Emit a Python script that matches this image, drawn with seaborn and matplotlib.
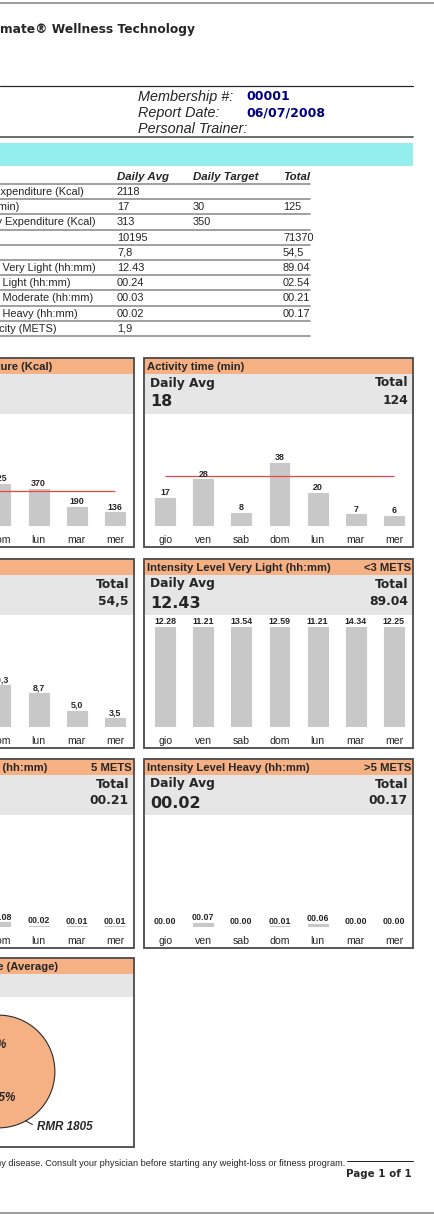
import numpy as np
import matplotlib
matplotlib.use("Agg")
import matplotlib.pyplot as plt
import seaborn as sns
from matplotlib.patches import Rectangle
from matplotlib.lines import Line2D
from matplotlib import font_manager as fm

# ---- data ----
days = ['gio', 'ven', 'sab', 'dom', 'lun', 'mar', 'mer']

# left column starts off the page: gio/ven/sab values there are estimates
kcal = [343, 565, 162, 425, 370, 190, 136]
kcal_target = 350
act_min = [17, 28, 8, 38, 20, 7, 6]
act_target = 30
distance = [8.7, 14.3, 4.0, 10.3, 8.7, 5.0, 3.5]
distance_labels = ['8,7', '14,3', '4,0', '10,3', '8,7', '5,0', '3,5']
very_light = ['12.28', '11.21', '13.54', '12.59', '11.21', '14.34', '12.25']
moderate = ['00.03', '00.05', '00.01', '00.08', '00.02', '00.01', '00.01']
heavy = ['00.00', '00.07', '00.00', '00.01', '00.06', '00.00', '00.00']

energy_names = ['RMR', 'Activity']
energy_parts = [1805, 313]

table_labels = ['Total Energy Expenditure (Kcal)', 'Activity Time (min)',
                'Activity Energy Expenditure (Kcal)', 'Steps', 'Distance (Km)',
                'Intensity Level Very Light (hh:mm)', 'Intensity Level Light (hh:mm)',
                'Intensity Level Moderate (hh:mm)', 'Intensity Level Heavy (hh:mm)',
                'Average Capacity (METS)']
table_avg = ['2118', '17', '313', '10195', '7,8', '12.43', '00.24', '00.03', '00.02', '1,9']
table_target = ['', '30', '350', '', '', '', '', '', '', '']
table_total = ['', '125', '', '71370', '54,5', '89.04', '02.54', '00.21', '00.17', '']


def to_minutes(s):
    h, m = s.split('.')
    return int(h) * 60 + int(m)


# ---- fonts / colours ----
def has_font(name):
    try:
        fm.findfont(fm.FontProperties(family=name), fallback_to_default=False)
        return True
    except Exception:
        return False


sns.set_style("white")
if has_font('Liberation Sans Narrow'):
    NARROW, NS = 'Liberation Sans Narrow', 1.0
else:
    NARROW, NS = 'Liberation Sans', 0.82
VERD = 'DejaVu Sans'
ARIAL = 'Liberation Sans'

ORANGE = '#F5B084'
BAND = '#E6E6E6'
BAR = '#C8C8C8'
BORDER = '#4a4a4a'
RED = '#EE4444'
NAVY = '#000080'

W, H = 435, 1217
fig = plt.figure(figsize=(W / 100, H / 100), dpi=100)


def fx(x):
    return x / W


def fy(y):
    return 1 - y / H


def ftext(x, y, s, px, **kw):
    kw.setdefault('va', 'center')
    fig.text(fx(x), fy(y), s, fontsize=px * 0.72, **kw)


def hline(x0, x1, y, lw, color):
    fig.add_artist(Line2D([fx(x0), fx(x1)], [fy(y), fy(y)], lw=lw * 0.72,
                          color=color, transform=fig.transFigure))


def rect(x0, y0, x1, y1, **kw):
    fig.add_artist(Rectangle((fx(x0), fy(y1)), (x1 - x0) / W, (y1 - y0) / H,
                             transform=fig.transFigure, **kw))


def axes_px(x0, y0, x1, y1):
    ax = fig.add_axes([fx(x0), fy(y1), (x1 - x0) / W, (y1 - y0) / H])
    ax.patch.set_alpha(0)
    return ax


# ---- page header ----
hline(0, W, 2.5, 2, '#a0a0a0')
ftext(0, 30, 'mate® Wellness Technology', 12.3, family=VERD, weight='bold')
hline(0, 413, 86, 1.2, '#222222')
for y, lab in zip([97, 113, 129], ['Membership #:', 'Report Date:', 'Personal Trainer:']):
    ftext(138, y, lab, 14.4, family=ARIAL, style='italic')
ftext(246, 97, '00001', 12.5, family=VERD, weight='bold', color=NAVY)
ftext(246, 113, '06/07/2008', 12.5, family=VERD, weight='bold', color=NAVY)
hline(0, 413, 137, 1.8, '#606060')
rect(0, 143, 413, 166, facecolor='#94EEEE', edgecolor='none')

# ---- summary table ----
for x, lab in zip([117, 193, 283], ['Daily Avg', 'Daily Target', 'Total']):
    ftext(x, 177, lab, 11.5, family=ARIAL, weight='bold', style='italic')
hline(0, 310, 184, 1.6, '#8c8c8c')
for i, lab in enumerate(table_labels):
    y = 192 + 15.2 * i
    ftext(-71, y, lab, 11, family=ARIAL)
    ftext(117, y, table_avg[i], 11, family=ARIAL)
    ftext(193, y, table_target[i], 11, family=ARIAL)
    ftext(283, y, table_total[i], 11, family=ARIAL)
    hline(0, 310, 184 + 15.2 * (i + 1), 1.6, '#8c8c8c')


# ---- chart panels ----
def panel(x0, top, title, right_title=None, avg=None, total=None, band=40):
    x1 = x0 + 269
    rect(x0, top, x1, top + 16, facecolor=ORANGE, edgecolor='none')
    rect(x0, top + 16, x1, top + 16 + band, facecolor=BAND, edgecolor='none')
    rect(x0, top, x1, top + 189, facecolor='none', edgecolor=BORDER, lw=1.3)
    ftext(x0 + 3, top + 9, title, 13.8 * NS, family=NARROW, weight='bold')
    if right_title:
        ftext(x1 - 2, top + 9, right_title, 13.8 * NS, family=NARROW,
              weight='bold', ha='right')
    if avg is not None:
        ftext(x0 + 6, top + 25, 'Daily Avg', 12.2, family=VERD, weight='bold')
        ftext(x0 + 6, top + 44, avg, 16, family=VERD, weight='bold')
    if total is not None:
        ftext(x1 - 5, top + 25, 'Total', 12.2, family=VERD, weight='bold', ha='right')
        ftext(x1 - 5, top + 42, total, 12.4, family=VERD, weight='bold', ha='right')


def bars(x0, top, values, labels, ylim, target=None):
    ax = axes_px(x0 + 2, top + 68, x0 + 269, top + 168)
    sns.barplot(x=days, y=values, ax=ax, color=BAR, width=0.52, saturation=1,
                edgecolor=BAR, linewidth=0.8)
    ax.set_xlim(-0.5, 6.5)
    ax.set_ylim(*ylim)
    for s in ax.spines.values():
        s.set_visible(False)
    ax.set_yticks([])
    ax.set_xlabel('')
    ax.set_ylabel('')
    ax.tick_params(axis='x', length=0, pad=6.5, labelsize=7.6)
    for t in ax.get_xticklabels():
        t.set_family(ARIAL)
    for i, (v, lab) in enumerate(zip(values, labels)):
        ax.annotate(lab, (i, min(v, ylim[1])), xytext=(0, 3.8), textcoords='offset points',
                    ha='center', va='center', fontsize=10.8 * 0.72 * NS,
                    family=NARROW, weight='bold', annotation_clip=False)
    if target is not None:
        ax.hlines(target, 0, 6, color=RED, lw=0.9)
    return ax


LX, RX = -135, 144
rows = [358, 559, 759, 958]

panel(LX, rows[0], 'Activity Energy Expenditure (Kcal)', avg='313')
bars(LX, rows[0], kcal, [str(v) for v in kcal], (0, 1000), kcal_target)
panel(RX, rows[0], 'Activity time (min)', avg='18', total='124')
bars(RX, rows[0], act_min, [str(v) for v in act_min], (0, 60), act_target)

panel(LX, rows[1], 'Distance (Km)', avg='7,8', total='54,5')
bars(LX, rows[1], distance, distance_labels, (1.6, 22.4))
panel(RX, rows[1], 'Intensity Level Very Light (hh:mm)', '<3 METS', '12.43', '89.04')
bars(RX, rows[1], [to_minutes(s) for s in very_light], very_light, (0, 600))

panel(LX, rows[2], 'Intensity Level Moderate (hh:mm)', '5 METS', '00.03', '00.21')
bars(LX, rows[2], [to_minutes(s) for s in moderate], moderate, (0, 175))
panel(RX, rows[2], 'Intensity Level Heavy (hh:mm)', '>5 METS', '00.02', '00.17')
bars(RX, rows[2], [to_minutes(s) for s in heavy], heavy, (0, 175))

panel(LX, rows[3], 'Total Energy Expenditure (Average)', band=23)
pax = axes_px(-59, 1014, 56, 1129)
wedges, _, autotexts = pax.pie(energy_parts, colors=[ORANGE, '#BFBFBF'], startangle=145.4,
                               autopct='%.0f%%', pctdistance=0.5,
                               wedgeprops=dict(edgecolor='#2b2b2b', linewidth=0.8),
                               textprops=dict(family=ARIAL, weight='bold', style='italic',
                                              fontsize=11.6 * 0.72))
autotexts[0].set_position((0.106, -0.47))
autotexts[1].set_position((-0.055, 0.47))
pax.set_xlim(-1.02, 1.02)
pax.set_ylim(-1.02, 1.02)
pax.set_aspect('equal')
pax.axis('off')
w = wedges[0]
th = np.deg2rad((w.theta1 + w.theta2) / 2)
pax.annotate(f'{energy_names[0]} {energy_parts[0]}', (np.cos(th), np.sin(th)),
             xytext=(0.683, -0.984), ha='left', va='center',
             fontsize=11.6 * 0.72, family=ARIAL, weight='bold', style='italic',
             annotation_clip=False,
             arrowprops=dict(arrowstyle='-', color='#222222', lw=0.7,
                             shrinkA=1, shrinkB=0, relpos=(0, 0.5)))

# ---- footer ----
ftext(345, 1163, 'any disease. Consult your physician before starting any weight-loss or fitness program.',
      9.15, family=ARIAL, ha='right')
hline(347, 413, 1161, 1, '#222222')
ftext(412, 1174, 'Page 1 of 1', 10.2, family=VERD, weight='bold', ha='right')
hline(0, W, 1213, 2, '#a0a0a0')

fig.savefig('out.png', dpi=100)
